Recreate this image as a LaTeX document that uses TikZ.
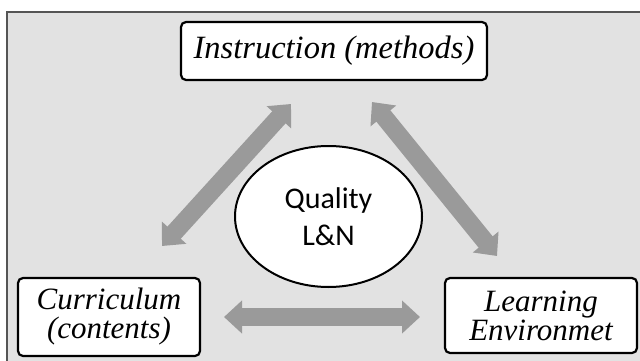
\documentclass[tikz,border=0pt]{standalone}
\usepackage{fontspec}
\setmainfont{Liberation Serif}
\newfontfamily\calibri{Carlito}
\usetikzlibrary{shapes.geometric,arrows.meta}
\definecolor{panel}{HTML}{E2E2E2}
\definecolor{framec}{HTML}{555555}
\definecolor{arrowc}{HTML}{9A9A9A}
\tikzset{
  boxnode/.style={draw=black, fill=white, line width=2.2pt, rounded corners=5pt,
    inner sep=0pt, align=center, font=\fontsize{31}{29}\selectfont\itshape},
  centrenode/.style={ellipse, draw=black, fill=white, line width=2pt, inner sep=0pt,
    minimum width=187pt, minimum height=141pt, align=center,
    font=\calibri\fontsize{30}{37}\selectfont},
  bigarrow/.style={draw=arrowc, line width=18pt,
    {Triangle[width=32pt,length=18pt]}-{Triangle[width=32pt,length=18pt]}}
}
\begin{document}
\begin{tikzpicture}[x=1pt,y=-1pt]
\useasboundingbox (0,0) rectangle (640,361);
\fill[white] (0,0) rectangle (640,361);
\path[fill=panel, draw=framec, line width=1.5pt] (7,12) rectangle (645,366);
% arrow end points
\coordinate (l1) at (162,246);
\coordinate (l2) at (291,104);
\coordinate (r1) at (372,102);
\coordinate (r2) at (497,256);
\coordinate (h1) at (224,317);
\coordinate (h2) at (420,317);
\draw[bigarrow] (l1) -- (l2);
\draw[bigarrow] (r1) -- (r2);
\draw[bigarrow] (h1) -- (h2);
% nodes
\node[centrenode] (q) at (328.5,216.5) {Quality\\L\&N};
\node[boxnode, font=\fontsize{32.5}{29}\selectfont\itshape, minimum width=306pt, minimum height=58pt] (ins) at (334,51) {Instruction (methods)};
\node[boxnode, minimum width=182pt, minimum height=78pt] (cur) at (109,317) {Curriculum\\(contents)};
\node[boxnode, minimum width=192pt, minimum height=75pt] (env) at (541,315.5) {Learning\\Environmet};
\end{tikzpicture}
\end{document}
